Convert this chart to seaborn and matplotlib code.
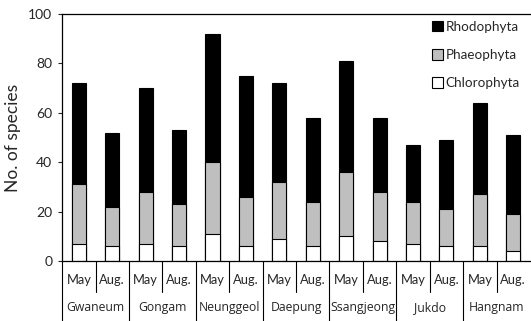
import pandas as pd
import numpy as np
import matplotlib.pyplot as plt
import seaborn as sns
from matplotlib.patches import Patch

# ======================
# Data
# ======================
sites = ["Gwaneum", "Gongam", "Neunggeol", "Daepung", "Ssangjeong", "Jukdo", "Hangnam"]
months = ["May", "Aug."]

chlorophyta = [7, 6, 7, 6, 11, 6, 9, 6, 10, 8, 7, 6, 6, 4]
phaeophyta = [24, 16, 21, 17, 29, 20, 23, 18, 26, 20, 17, 15, 21, 15]
rhodophyta = [41, 30, 42, 30, 52, 49, 40, 34, 45, 30, 23, 28, 37, 32]

# ======================
# Frame
# ======================
bar_ids = [f"{s} {m}" for s in sites for m in months]
df = pd.DataFrame({
    "bar": bar_ids,
    "chloro": chlorophyta,
    "phaeo": phaeophyta,
    "rhodo": rhodophyta,
})
df["chloro_top"] = df["chloro"]
df["phaeo_top"] = df["chloro"] + df["phaeo"]
df["total"] = df["phaeo_top"] + df["rhodo"]

sns.set_style("white")
plt.rcParams["font.family"] = ["Lato", "DejaVu Sans"]

fig = plt.figure(figsize=(5.31, 3.21), dpi=100)
ax = fig.add_axes([0.117, 0.187, 0.881, 0.769])

# stacked bars by overlay: tallest first
bar_kw = dict(x="bar", order=bar_ids, width=0.42, edgecolor="black",
              linewidth=0.8, ax=ax, saturation=1)
sns.barplot(data=df, y="total", color="black", **bar_kw)
sns.barplot(data=df, y="phaeo_top", color="#bfbfbf", **bar_kw)
sns.barplot(data=df, y="chloro_top", color="white", **bar_kw)

ax.set_xlim(-0.5, len(bar_ids) - 0.5)
ax.set_ylim(0, 100)
ax.set_yticks(range(0, 101, 20))
ax.tick_params(axis="y", labelsize=10, length=3, width=0.8, direction="out",
               left=True, pad=4)
ax.set_xticks([])
ax.set_xlabel("")
ax.set_ylabel("No. of species", fontsize=12.5, labelpad=5)

for side in ["left", "top", "bottom"]:
    ax.spines[side].set_visible(True)
    ax.spines[side].set_color("black")
    ax.spines[side].set_linewidth(0.9)
ax.spines["right"].set_visible(False)

# two-level category axis
trans = ax.get_xaxis_transform()
for i in range(len(bar_ids)):
    left = i - 0.5
    depth = -0.245 if i % 2 == 0 else -0.126
    ax.plot([left, left], [0, depth], color="black", lw=0.8,
            transform=trans, clip_on=False)
    ax.text(i, -0.077, months[i % 2], transform=trans, ha="center",
            va="center", fontsize=9.3)
for j, s in enumerate(sites):
    ax.text(2 * j + 0.5, -0.19, s, transform=trans, ha="center",
            va="center", fontsize=8.8, family=["Open Sans", "DejaVu Sans"])

handles = [
    Patch(facecolor="black", edgecolor="black", lw=0.8, label="Rhodophyta"),
    Patch(facecolor="#bfbfbf", edgecolor="black", lw=0.8, label="Phaeophyta"),
    Patch(facecolor="white", edgecolor="black", lw=0.8, label="Chlorophyta"),
]
ax.legend(handles=handles, loc="upper right", bbox_to_anchor=(0.995, 1.005),
          frameon=False, fontsize=9.7, handlelength=0.8, handleheight=0.8,
          handletextpad=0.15, labelspacing=1.2, borderaxespad=0.2)

fig.savefig("out.png", dpi=100)
